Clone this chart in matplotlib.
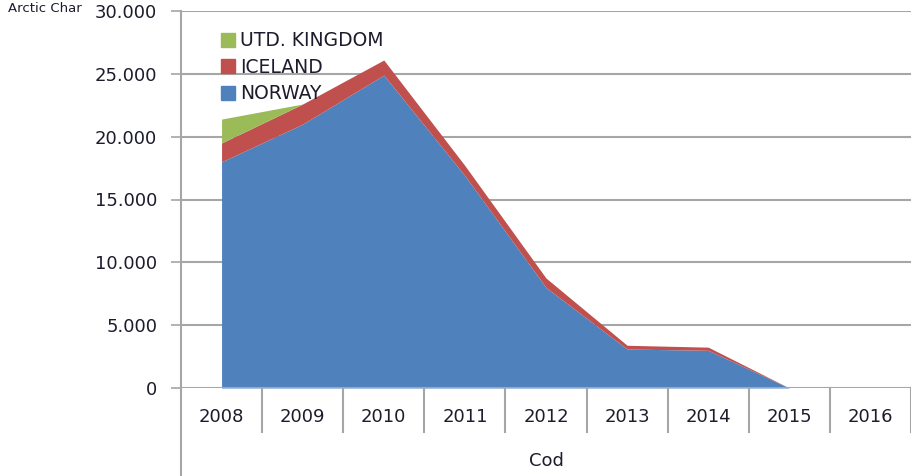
import numpy as np
import matplotlib
matplotlib.use("Agg")
import matplotlib.pyplot as plt
from matplotlib.patches import Patch

years = ["2008", "2009", "2010", "2011", "2012", "2013", "2014", "2015", "2016"]
norway = [18000, 21000, 24900, 16900, 8000, 3100, 3000, 0, np.nan]
iceland = [1500, 1600, 1200, 800, 750, 300, 250, 0, np.nan]
uk = [1900, 0, 0, 0, 0, 0, 0, 0, np.nan]
yticks = [0, 5000, 10000, 15000, 20000, 25000, 30000]
ytick_labels = ["0", "5.000", "10.000", "15.000", "20.000", "25.000", "30.000"]

c_nor = "#4F81BD"
c_ice = "#C0504D"
c_uk = "#9BBB59"
grid_c = "#A6A6A6"
txt_c = "#1C1C2C"

fig = plt.figure(figsize=(9.12, 4.76), dpi=100)
ax = fig.add_axes([181/912, 1-388/476, (911-181)/912, (388-11)/476])

x = np.arange(len(years))
a = np.array(norway)
b = a + np.array(iceland)
c = b + np.array(uk)
ax.fill_between(x, 0, a, color=c_nor, lw=0)
ax.fill_between(x, a, b, color=c_ice, lw=0)
ax.fill_between(x, b, c, color=c_uk, lw=0)

ax.set_xlim(-0.5, len(years) - 0.5)
ax.set_ylim(0, 30000)
ax.set_yticks(yticks)
ax.set_yticklabels(ytick_labels, fontsize=13, color=txt_c)
ax.tick_params(axis="y", length=7.2, width=1.2, color=grid_c, pad=10)
ax.set_xticks([])
for s in ["top", "right", "bottom"]:
    ax.spines[s].set_visible(False)
ax.spines["left"].set_color(grid_c)
ax.spines["left"].set_linewidth(1.5)

for yv in yticks[1:]:
    ax.axhline(yv, color=grid_c, lw=1.5, zorder=0)
ax.axhline(0, color=grid_c, lw=1.5, zorder=3)

tr = ax.get_xaxis_transform()
# category separators
for i in range(1, len(years) + 1):
    ax.plot([i - 0.5, i - 0.5], [0, -0.117], transform=tr, color=grid_c,
            lw=1.5, clip_on=False)
ax.plot([-0.5, -0.5], [0, -0.24], transform=tr, color=grid_c, lw=1.5,
        clip_on=False)

for i, yr in enumerate(years):
    ax.text(i, -0.077, yr, transform=tr, ha="center", va="center",
            fontsize=13, color=txt_c)
ax.text(0.5, -0.194, "Cod", transform=ax.transAxes, ha="center",
        va="center", fontsize=13, color=txt_c)

fig.text(8/912, 1-9/476, "Arctic Char", ha="left", va="center",
         fontsize=9.5, color=txt_c)

handles = [Patch(color=c_uk), Patch(color=c_ice), Patch(color=c_nor)]
ax.legend(handles, ["UTD. KINGDOM", "ICELAND", "NORWAY"],
          loc="upper left", bbox_to_anchor=(0.044, 0.966), frameon=False,
          fontsize=13.5, handlelength=0.75, handleheight=0.75,
          handletextpad=0.3, labelspacing=0.4, borderaxespad=0,
          labelcolor=txt_c)

fig.savefig("out.png", dpi=100)
